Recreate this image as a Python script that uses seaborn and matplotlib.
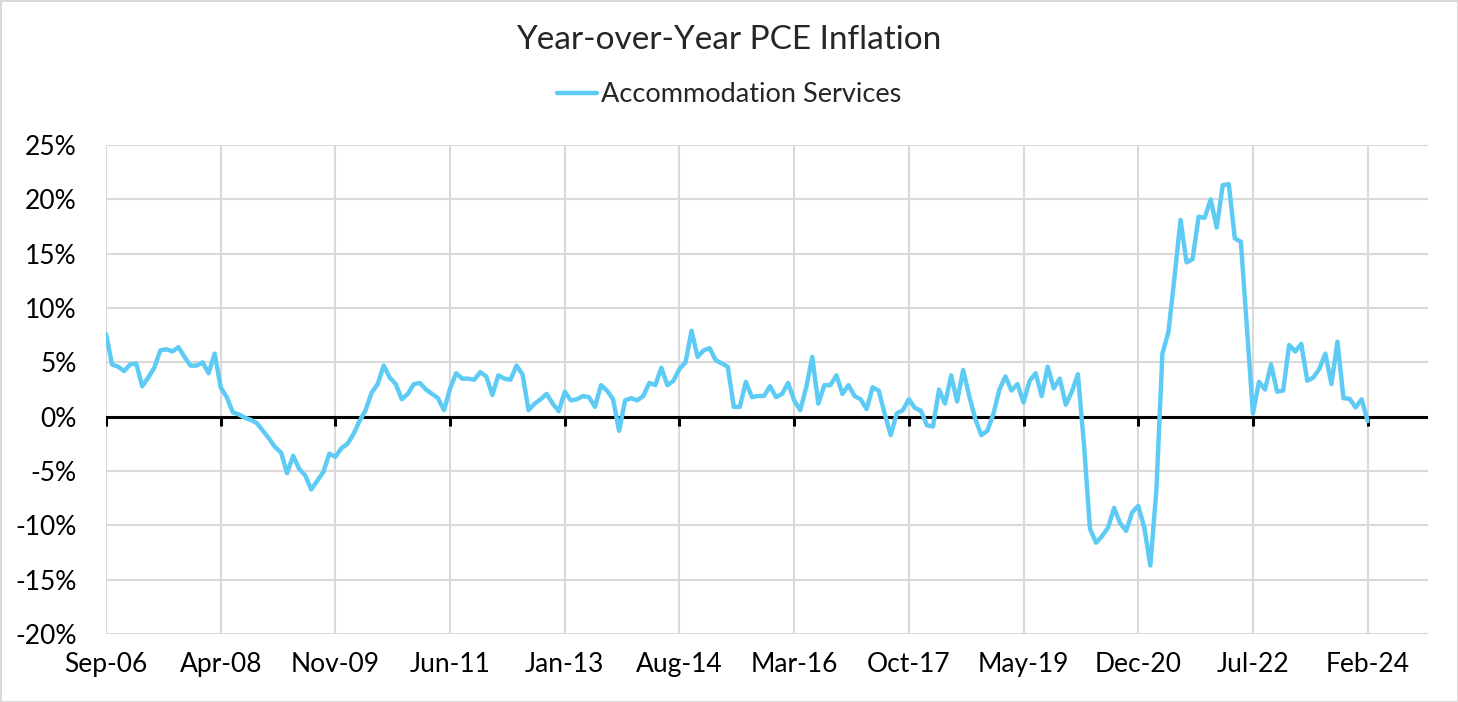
import pandas as pd
import seaborn as sns
import matplotlib.pyplot as plt
from matplotlib.ticker import FuncFormatter

# monthly YoY values (%), Sep-06 .. Feb-24
accommodation = [
    7.6, 4.8, 4.6, 4.2, 4.8, 4.9, 2.8, 3.6, 4.5, 6.1, 6.2, 6.0, 6.4, 5.5, 4.7, 4.7, 5.0, 4.0, 5.8, 2.7,
    1.8, 0.4, 0.2, -0.1, -0.3, -0.6, -1.3, -2.0, -2.8, -3.3, -5.2, -3.6, -4.8, -5.4, -6.7, -5.9, -5.1, -3.4, -3.7, -2.9,
    -2.5, -1.6, -0.4, 0.6, 2.2, 3.0, 4.7, 3.6, 3.0, 1.6, 2.1, 3.0, 3.1, 2.5, 2.1, 1.7, 0.6, 2.6, 4.0, 3.5,
    3.5, 3.4, 4.1, 3.7, 2.0, 3.8, 3.5, 3.4, 4.7, 3.9, 0.6, 1.2, 1.6, 2.1, 1.2, 0.5, 2.3, 1.5, 1.6, 1.9,
    1.8, 0.9, 2.9, 2.4, 1.6, -1.3, 1.5, 1.7, 1.5, 1.9, 3.1, 2.9, 4.5, 2.9, 3.3, 4.4, 5.0, 7.9, 5.5, 6.1,
    6.3, 5.2, 4.9, 4.6, 0.9, 0.9, 3.2, 1.8, 1.9, 1.9, 2.8, 1.8, 2.1, 3.1, 1.5, 0.6, 2.7, 5.5, 1.2, 2.9,
    2.9, 3.8, 2.1, 2.9, 1.9, 1.6, 0.7, 2.7, 2.4, 0.25, -1.7, 0.3, 0.6, 1.6, 0.8, 0.55, -0.8, -0.9, 2.5, 1.2,
    3.8, 1.4, 4.3, 1.9, -0.2, -1.7, -1.3, 0.25, 2.5, 3.7, 2.4, 3.0, 1.3, 3.3, 4.0, 1.9, 4.6, 2.6, 3.5, 1.1,
    2.3, 3.9, -2.5, -10.3, -11.6, -11.0, -10.2, -8.4, -9.8, -10.5, -8.8, -8.2, -10.2, -13.7, -6.8, 5.8, 7.8, 12.8, 18.1, 14.2,
    14.5, 18.4, 18.3, 20.0, 17.4, 21.3, 21.4, 16.4, 16.1, 8.2, 0.3, 3.2, 2.5, 4.8, 2.3, 2.4, 6.6, 6.0, 6.7, 3.3,
    3.6, 4.4, 5.8, 3.0, 6.9, 1.7, 1.65, 0.85, 1.6, -0.4,
]
month = list(range(len(accommodation)))

tick_labels = ['Sep-06', 'Apr-08', 'Nov-09', 'Jun-11', 'Jan-13', 'Aug-14',
               'Mar-16', 'Oct-17', 'May-19', 'Dec-20', 'Jul-22', 'Feb-24']
tick_pos = [i * 19 for i in range(len(tick_labels))]
y_ticks = [-20, -15, -10, -5, 0, 5, 10, 15, 20, 25]

df = pd.DataFrame({'month': month, 'value': accommodation})

sns.set_style('white')
plt.rcParams['font.family'] = ['Lato', 'DejaVu Sans']

fig = plt.figure(figsize=(14.58, 7.02), dpi=100)
fig.patch.set_edgecolor('#d9d9d9')
fig.patch.set_linewidth(2)
ax = fig.add_axes([106 / 1458, 1 - 634 / 702, (1428 - 106) / 1458, (634 - 145) / 702])

sns.lineplot(data=df, x='month', y='value', ax=ax, color='#5ECBF4', linewidth=3.2,
             label='Accommodation Services', zorder=3)

ax.set_xlim(0, 219)
ax.set_ylim(-20, 25)
ax.set_xticks(tick_pos)
ax.set_xticklabels(tick_labels)
ax.set_yticks(y_ticks)
ax.yaxis.set_major_formatter(FuncFormatter(lambda v, p: f'{v:.0f}%'))
ax.grid(True, color='#d9d9d9', linewidth=1.5)
ax.tick_params(axis='both', length=0, labelsize=19, colors='black')
ax.tick_params(axis='y', pad=21)
ax.tick_params(axis='x', pad=13)
for s in ax.spines.values():
    s.set_visible(False)

# zero axis with small tick marks
ax.axhline(0, color='black', linewidth=2.2, zorder=2)
ax.vlines(tick_pos, -0.85, 0, color='black', linewidth=2.2, zorder=2)

ax.set_xlabel('')
ax.set_ylabel('')
ax.get_legend().remove()
handles, labels = ax.get_legend_handles_labels()
fig.legend(handles, labels, loc='center', bbox_to_anchor=(0.5, 1 - 95 / 702), frameon=False,
           fontsize=19.5, handlelength=1.5, handletextpad=0.15)
fig.suptitle('Year-over-Year PCE Inflation', y=1 - 40 / 702, va='center', fontsize=24)

fig.savefig('out.png', dpi=100)
